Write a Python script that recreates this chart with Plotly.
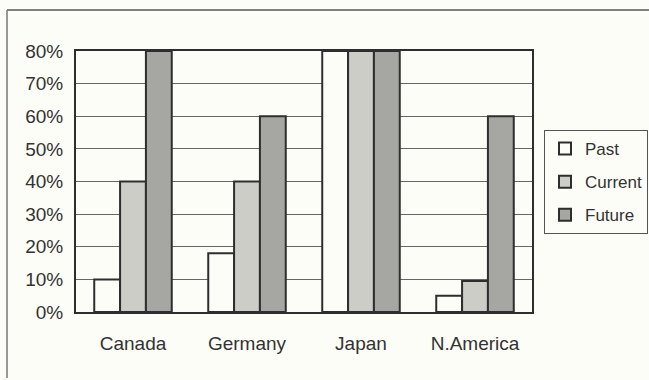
import plotly.graph_objects as go

categories = ["Canada", "Germany", "Japan", "N.America"]
past = [0.10, 0.18, 0.80, 0.05]
current = [0.40, 0.40, 0.80, 0.095]
future = [0.80, 0.60, 0.80, 0.60]
series_names = ["Past", "Current", "Future"]
tick_vals = [0, 0.1, 0.2, 0.3, 0.4, 0.5, 0.6, 0.7, 0.8]

W, H = 649, 380
L, R, T, B = 76, 532, 51, 312

fills = ["#fdfdf8", "#cdcdc8", "#a6a6a2"]
fig = go.Figure()
for name, vals, col in zip(series_names, [past, current, future], fills):
    fig.add_trace(go.Bar(
        x=categories, y=vals, name=name, legendgroup=name,
        marker=dict(color=col, line=dict(color="#2e2e2e", width=2)),
    ))

font = dict(family="Liberation Sans, Arial, sans-serif", size=19, color="#333333")

def px_x(px):
    return (px - L) / (R - L)

def px_y(py):
    return (B - py) / (B - T)

fig.update_layout(
    width=W, height=H, autosize=False,
    margin=dict(l=L, r=W - R, t=T, b=H - B, autoexpand=False),
    paper_bgcolor="#fdfdf7", plot_bgcolor="#fdfdf7",
    barmode="group", bargap=0.32, bargroupgap=0,
    font=font,
    showlegend=True,
    legend=dict(
        x=px_x(648), y=px_y(130), xanchor="right", yanchor="top",
        bordercolor="#555555", borderwidth=1, bgcolor="#fdfdf7",
        font=dict(family="Liberation Sans, Arial, sans-serif", size=17, color="#333333"),
        tracegroupgap=8, itemwidth=30,
    ),
    xaxis=dict(
        showline=True, linecolor="#2e2e2e", linewidth=2, mirror=True,
        ticks="", ticklabelstandoff=13, tickfont=font,
    ),
    yaxis=dict(
        range=[0, 0.8], tickvals=tick_vals, tickformat=".0%",
        showline=True, linecolor="#2e2e2e", linewidth=2, mirror=True,
        showgrid=True, gridcolor="#666666", gridwidth=1,
        ticks="", ticklabelstandoff=7, tickfont=font, zeroline=False,
    ),
    shapes=[
        dict(type="line", xref="paper", yref="paper",
             x0=px_x(7), x1=px_x(649), y0=px_y(10), y1=px_y(10),
             line=dict(color="#555555", width=1.5)),
        dict(type="line", xref="paper", yref="paper",
             x0=px_x(7), x1=px_x(7), y0=px_y(10), y1=px_y(378),
             line=dict(color="#777777", width=1.5)),
    ],
)

fig.write_html("out.html")
